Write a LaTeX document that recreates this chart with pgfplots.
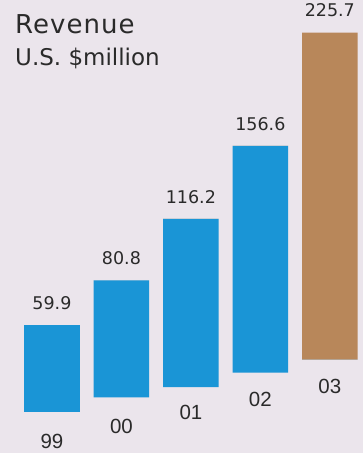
\documentclass[border=0pt]{standalone}
\usepackage{pgfplots}
\pgfplotsset{compat=1.18}
\usepackage{fontspec}
\setmainfont{Liberation Sans}
\newfontfamily\dejavu{DejaVu Sans}
\newfontfamily\dejavusp[LetterSpace=4]{DejaVu Sans}
\definecolor{bg}{HTML}{EBE5EC}
\definecolor{barblue}{HTML}{1A95D6}
\definecolor{bartan}{HTML}{B8875A}
\definecolor{txt}{HTML}{2A2A2A}
\begin{document}
\begin{tikzpicture}
\begin{axis}[
  scale only axis, width=363bp, height=453bp,
  xmin=-0.748, xmax=4.475, ymin=-28.3, ymax=284.1,
  axis background/.style={fill=bg},
  axis line style={draw=none},
  major tick length=0pt,
  ytick=\empty,
  xtick={0,1,2,3,4},
  xticklabels={99,\raisebox{15bp}{00},\raisebox{29bp}{01},\raisebox{42bp}{02},\raisebox{55bp}{03}},
  xticklabel style={anchor=base, yshift=4bp, text=txt, font=\fontsize{20.5bp}{24bp}\selectfont},
  ybar stacked, bar width=0.8,
  stacked ignores zero=false,
  clip=false,
  point meta=explicit symbolic,
  nodes near coords style={anchor=center, yshift=22bp, text=txt, font=\dejavu\fontsize{17.5bp}{20bp}\selectfont},
]
% invisible perspective offset of each bar's base (layout only)
\addplot[draw=none, fill=none] coordinates {(0,0) (1,10) (2,17) (3,27) (4,36)};
\addplot[draw=none, fill=barblue] coordinates {(0,59.9) (1,80.8) (2,116.2) (3,156.6) (4,0)};
\addplot[draw=none, fill=bartan] coordinates {(0,0) (1,0) (2,0) (3,0) (4,225.7)};
% zero-height segment carrying the value labels at each bar's top
\addplot[draw=none, fill=none, nodes near coords] coordinates {(0,0) [59.9] (1,0) [80.8] (2,0) [116.2] (3,0) [156.6] (4,0) [225.7]};
\node[anchor=base west, text=txt, font=\dejavusp\fontsize{26bp}{30bp}\selectfont, inner sep=0pt] at (rel axis cs:15/363,{1-33/453}) {Revenue};
\node[anchor=base west, text=txt, font=\dejavu\fontsize{23bp}{26bp}\selectfont, inner sep=0pt] at (rel axis cs:15/363,{1-65/453}) {U.S. \$million};
\end{axis}
\end{tikzpicture}
\end{document}
